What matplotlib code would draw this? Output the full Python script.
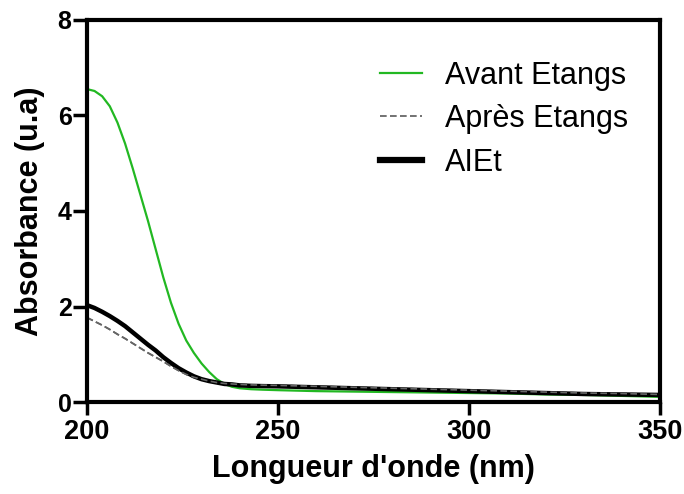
import matplotlib
matplotlib.use("Agg")
import matplotlib.pyplot as plt

plt.rcParams['font.family'] = ['Liberation Sans', 'DejaVu Sans']

wl = [200, 202, 204, 206, 208, 210, 212, 214, 216, 218, 220, 222, 224, 226, 228,
      230, 232, 234, 236, 238, 240, 243, 246, 250, 260, 270, 280, 290, 300, 310,
      320, 330, 340, 350]
avant = [6.55, 6.51, 6.40, 6.19, 5.85, 5.41, 4.89, 4.34, 3.79, 3.20, 2.61, 2.08,
         1.64, 1.29, 1.03, 0.81, 0.63, 0.48, 0.38, 0.32, 0.29, 0.27, 0.26, 0.25,
         0.23, 0.22, 0.21, 0.20, 0.19, 0.18, 0.16, 0.15, 0.13, 0.11]
apres = [1.77, 1.69, 1.61, 1.52, 1.42, 1.33, 1.23, 1.13, 1.03, 0.94, 0.85, 0.75,
         0.66, 0.58, 0.52, 0.48, 0.44, 0.41, 0.39, 0.38, 0.37, 0.36, 0.355, 0.35,
         0.33, 0.31, 0.29, 0.27, 0.25, 0.23, 0.21, 0.19, 0.18, 0.16]
aiet = [2.03, 1.97, 1.89, 1.80, 1.70, 1.59, 1.46, 1.33, 1.20, 1.08, 0.94, 0.82,
        0.71, 0.62, 0.54, 0.48, 0.44, 0.41, 0.38, 0.37, 0.35, 0.34, 0.335, 0.33,
        0.31, 0.29, 0.27, 0.25, 0.23, 0.21, 0.19, 0.17, 0.16, 0.15]
xticks = [200, 250, 300, 350]
yticks = [0, 2, 4, 6, 8]

fig = plt.figure(figsize=(6.84, 4.94), dpi=100)
ax = fig.add_axes([0.127, 0.186, 0.838, 0.774])

ax.plot(wl, avant, color='#22b822', lw=1.6, label='Avant Etangs')
ax.plot(wl, apres, color='#5a5a5a', lw=1.2, ls=(0, (4, 2)), label='Après Etangs')
ax.plot(wl, aiet, color='black', lw=3.2, label='AIEt')
ax.plot(wl, apres, color='#666666', lw=1.2, ls=(0, (4, 2)))

ax.set_xlim(200, 350)
ax.set_ylim(0, 8)
ax.set_xticks(xticks)
ax.set_yticks(yticks)
for s in ax.spines.values():
    s.set_linewidth(3)
ax.tick_params(axis='x', direction='out', length=9, width=2.5, pad=3.5)
ax.tick_params(axis='y', direction='out', length=10, width=2.5, pad=1)
ax.set_xticklabels([str(v) for v in xticks], fontsize=19.5, fontweight='bold')
ax.set_yticklabels([str(v) for v in yticks], fontsize=18, fontweight='bold')

ax.set_xlabel("Longueur d'onde (nm)", fontsize=22, fontweight='bold', labelpad=6)
ax.set_ylabel("Absorbance (u.a)", fontsize=22, fontweight='bold', labelpad=9)

leg = ax.legend(loc='upper left', bbox_to_anchor=(0.511, 0.893), frameon=False,
                fontsize=22, handlelength=1.37, handletextpad=0.75, labelspacing=0.44,
                borderpad=0, borderaxespad=0)
leg.get_lines()[2].set_linewidth(4.5)

fig.savefig('out.png', dpi=100)
